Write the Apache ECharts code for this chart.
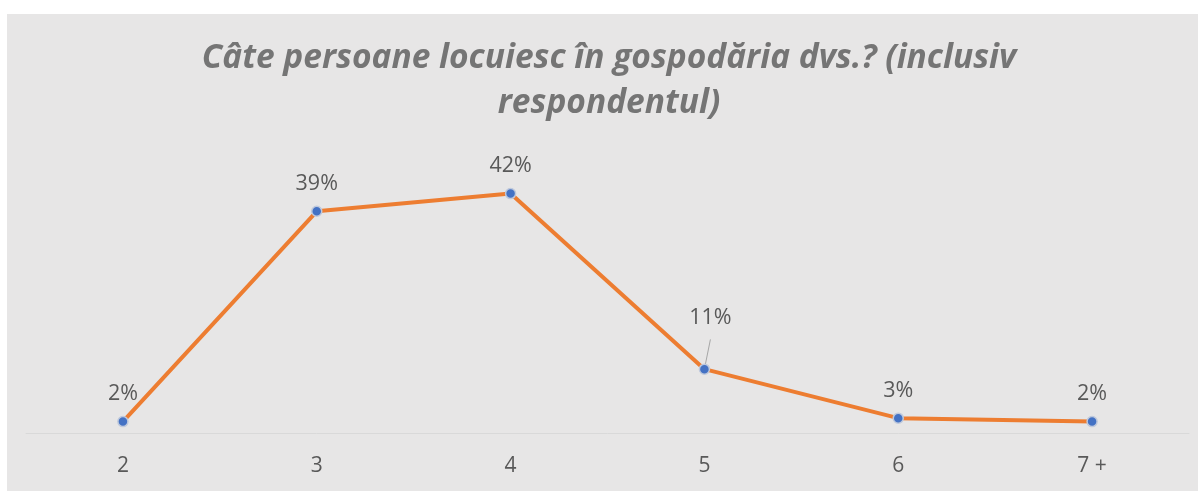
<!DOCTYPE html>
<html>
<head>
<meta charset="utf-8">
<script src="https://cdn.jsdelivr.net/npm/echarts@6/dist/echarts.min.js"></script>
<style>
html,body{margin:0;padding:0;background:#ffffff;width:1198px;height:491px;overflow:hidden;}
#c{position:absolute;left:7px;top:14px;width:1191px;height:477px;}
</style>
</head>
<body>
<div id="c"></div>
<script>
const titleText = 'Câte persoane locuiesc în gospodăria dvs.? (inclusiv\nrespondentul)';
const categories = ['2', '3', '4', '5', '6', '7 +'];
const values = [2.0, 38.9, 42.0, 11.2, 2.6, 2.0];

const chart = echarts.init(document.getElementById('c'), null, {renderer: 'canvas'});
const data = values.map((v, i) => {
  const d = {value: v};
  if (i === 3) {
    d.label = {offset: [6, -24]};
    d.labelLine = {show: true};
  }
  return d;
});
chart.setOption({
  backgroundColor: '#e7e6e6',
  animation: false,
  title: {
    text: titleText,
    left: 597,
    top: 17,
    textAlign: 'center',
    textStyle: {
      fontFamily: 'Open Sans',
      fontSize: 33.5,
      fontWeight: 'bold',
      fontStyle: 'italic',
      color: '#757575',
      lineHeight: 45
    }
  },
  grid: {left: 19, right: 9, top: 134, bottom: 58},
  xAxis: {
    type: 'category',
    data: categories,
    boundaryGap: true,
    axisLine: {lineStyle: {color: '#d9d9d9', width: 1}},
    axisTick: {show: false},
    axisLabel: {color: '#595959', fontSize: 21, fontFamily: 'Open Sans', margin: 23}
  },
  yAxis: {
    type: 'value',
    min: 0,
    max: 50,
    show: false,
    splitLine: {show: false}
  },
  series: [{
    type: 'line',
    data: data,
    symbol: 'circle',
    symbolSize: 10,
    itemStyle: {color: '#4472c4', borderColor: '#bfc9dc', borderWidth: 1.5},
    lineStyle: {color: '#ed7d31', width: 4},
    label: {
      show: true,
      position: 'top',
      distance: 11,
      color: '#595959',
      fontSize: 21.5,
      fontFamily: 'Open Sans',
      formatter: p => Math.round(p.value) + '%'
    },
    labelLine: {show: false, lineStyle: {color: '#a6a6a6', width: 1}}
  }]
});
</script>
</body>
</html>
